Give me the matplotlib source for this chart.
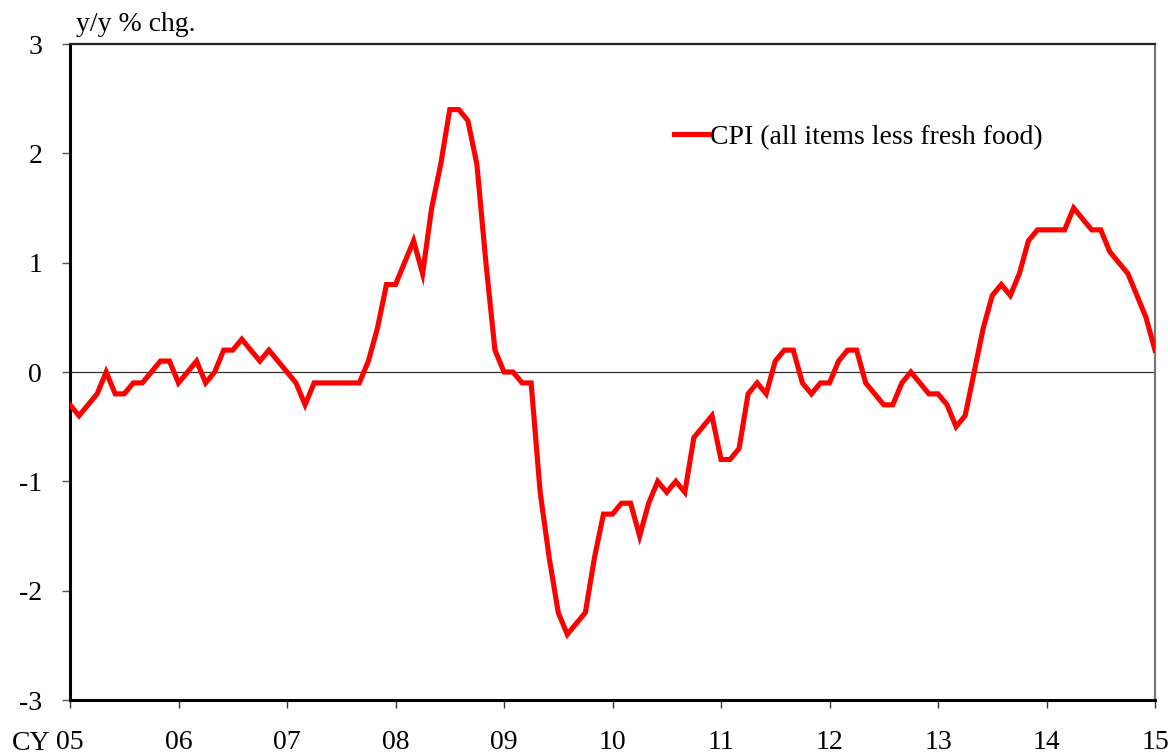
import numpy as np
import matplotlib
matplotlib.use("Agg")
import matplotlib.pyplot as plt

# --- datos: IPC (sin alimentos frescos), var. interanual mensual, ene-05 a ene-15 ---
cpi_2005 = [-0.3, -0.4, -0.3, -0.2, 0.0, -0.2, -0.2, -0.1, -0.1, 0.0, 0.1, 0.1]
cpi_2006 = [-0.1, 0.0, 0.1, -0.1, 0.0, 0.2, 0.2, 0.3, 0.2, 0.1, 0.2, 0.1]
cpi_2007 = [0.0, -0.1, -0.3, -0.1, -0.1, -0.1, -0.1, -0.1, -0.1, 0.1, 0.4, 0.8]
cpi_2008 = [0.8, 1.0, 1.2, 0.9, 1.5, 1.9, 2.4, 2.4, 2.3, 1.9, 1.0, 0.2]
cpi_2009 = [0.0, 0.0, -0.1, -0.1, -1.1, -1.7, -2.2, -2.4, -2.3, -2.2, -1.7, -1.3]
cpi_2010 = [-1.3, -1.2, -1.2, -1.5, -1.2, -1.0, -1.1, -1.0, -1.1, -0.6, -0.5, -0.4]
cpi_2011 = [-0.8, -0.8, -0.7, -0.2, -0.1, -0.2, 0.1, 0.2, 0.2, -0.1, -0.2, -0.1]
cpi_2012 = [-0.1, 0.1, 0.2, 0.2, -0.1, -0.2, -0.3, -0.3, -0.1, 0.0, -0.1, -0.2]
cpi_2013 = [-0.2, -0.3, -0.5, -0.4, 0.0, 0.4, 0.7, 0.8, 0.7, 0.9, 1.2, 1.3]
cpi_2014 = [1.3, 1.3, 1.3, 1.5, 1.4, 1.3, 1.3, 1.1, 1.0, 0.9, 0.7, 0.5]
cpi_2015 = [0.2]

years = list(range(2005, 2016))
year_labels = ["05", "06", "07", "08", "09", "10", "11", "12", "13", "14", "15"]
y_ticks = [-3, -2, -1, 0, 1, 2, 3]
series_name = "CPI (all items less fresh food)"

cpi = (cpi_2005 + cpi_2006 + cpi_2007 + cpi_2008 + cpi_2009 + cpi_2010
       + cpi_2011 + cpi_2012 + cpi_2013 + cpi_2014 + cpi_2015)
x = years[0] + np.arange(len(cpi)) / 12.0

# --- figura ---
plt.rcParams["font.family"] = ["Liberation Serif", "DejaVu Serif"]
plt.rcParams["font.size"] = 20

fig = plt.figure(figsize=(11.68, 7.54), dpi=100)
ax = fig.add_axes([70 / 1168, 1 - 700 / 754, 1085 / 1168, 656 / 754])

ax.axhline(0, color="#333333", lw=0.9, zorder=1)
ax.plot(x, cpi, color="#ff0000", lw=3.7, solid_joinstyle="miter", label=series_name, zorder=3)

ax.set_xlim(years[0], years[-1])
ax.set_ylim(-3, 3)
ax.set_xticks(years)
ax.set_xticklabels(year_labels)
ax.set_yticks(y_ticks)
ax.set_yticklabels([str(v) for v in y_ticks])

ax.tick_params(axis="x", direction="out", length=6, width=1, color="#333333", pad=15.5)
ax.tick_params(axis="y", direction="out", length=6, width=1, color="#555555", pad=14)

ax.spines["left"].set_linewidth(2.2)
ax.spines["left"].set_color("black")
ax.spines["bottom"].set_linewidth(2.2)
ax.spines["bottom"].set_color("black")
ax.spines["top"].set_linewidth(1.6)
ax.spines["top"].set_color("#222222")
ax.spines["right"].set_linewidth(1.6)
ax.spines["right"].set_color("#777777")

# "CY" delante del primer año
ax.annotate("CY", xy=(0, 0), xycoords="axes fraction", xytext=(-42, -22),
            textcoords="offset points", ha="left", va="top")

# unidad arriba a la izquierda
ax.annotate("y/y % chg.", xy=(0, 1), xycoords="axes fraction", xytext=(4, 5),
            textcoords="offset points", ha="left", va="bottom")

ax.legend(loc="center left", bbox_to_anchor=(0.557, 0.858), frameon=False,
          borderpad=0, borderaxespad=0, handlelength=1.2, handletextpad=0.1,
          fontsize=20)

fig.savefig("out.png", dpi=100)
